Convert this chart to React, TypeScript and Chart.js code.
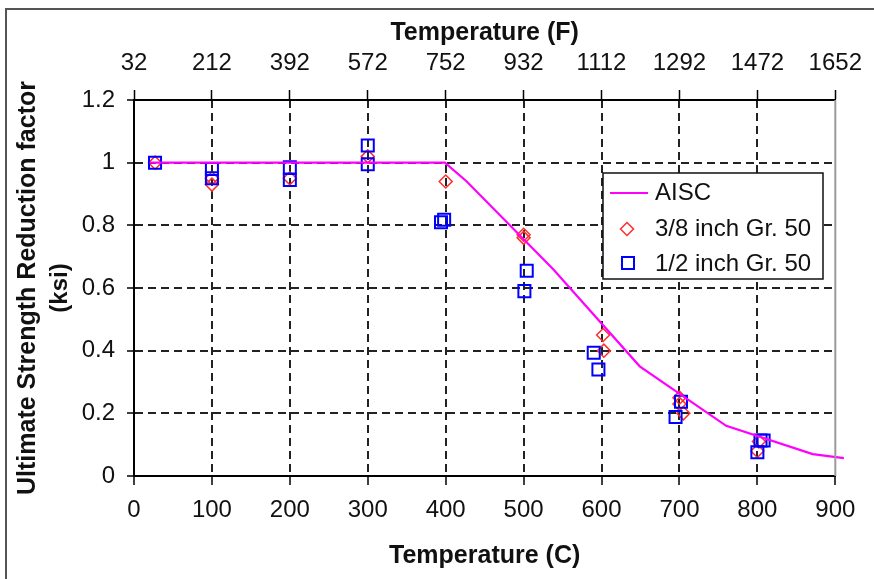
import React, { useEffect, useRef } from 'react';
import { Chart, registerables } from 'chart.js';

Chart.register(...registerables);

// AISC ultimate-strength reduction curve (temperature in C)
const aiscTempC = [20, 93, 204, 316, 399, 427, 538, 649, 760, 871, 911];
const aiscFactor = [1, 1, 1, 1, 1, 0.94, 0.66, 0.35, 0.16, 0.07, 0.057];

// 3/8 inch Gr. 50 (diamonds)
const g38TempC = [27, 100, 100, 200, 300, 400, 500, 500, 602, 603, 700, 700, 705, 802, 800];
const g38Factor = [1.0, 0.93, 0.95, 0.95, 1.02, 0.94, 0.77, 0.76, 0.45, 0.4, 0.25, 0.23, 0.2, 0.11, 0.08];

// 1/2 inch Gr. 50 (squares)
const g12TempC = [27, 100, 100, 200, 200, 300, 300, 394, 398, 504, 501, 590, 596, 702, 695, 800, 804, 808];
const g12Factor = [1.0, 0.98, 0.95, 0.985, 0.945, 1.055, 0.995, 0.81, 0.818, 0.655, 0.59, 0.393, 0.34, 0.237, 0.188, 0.076, 0.113, 0.113];

// Tick labels
const fTickLabels = ['32', '212', '392', '572', '752', '932', '1112', '1292', '1472', '1652'];
const yTickLabels = ['0', '0.2', '0.4', '0.6', '0.8', '1', '1.2'];

const seriesNames = ['AISC', '3/8 inch Gr. 50', '1/2 inch Gr. 50'];

const FONT = '"Liberation Sans", Arial, Helvetica, sans-serif';
const MAGENTA = '#ff00ff';
const RED = 'rgb(255,45,45)';
const BLUE = '#0000ff';
const GRID = '#222';

const toPoints = (xs: number[], ys: number[]) => xs.map((x, i) => ({ x, y: ys[i] }));

const decorPlugin = {
  id: 'decor',
  afterDraw(chart: any) {
    const { ctx, chartArea } = chart;
    const ca = chartArea;
    ctx.save();
    // right plot border (gray)
    ctx.strokeStyle = '#9a9a9a';
    ctx.lineWidth = 2;
    ctx.beginPath();
    ctx.moveTo(ca.right, ca.top);
    ctx.lineTo(ca.right, ca.bottom);
    ctx.stroke();

    // outer frame
    ctx.strokeStyle = '#555';
    ctx.lineWidth = 2;
    ctx.strokeRect(6, 9, 900, 620);

    // titles
    ctx.fillStyle = '#111';
    ctx.font = 'bold 25px ' + FONT;
    ctx.textAlign = 'center';
    ctx.textBaseline = 'alphabetic';
    const cx = (ca.left + ca.right) / 2;
    ctx.fillText('Temperature (F)', cx, 40);
    ctx.fillText('Temperature (C)', cx, 563);
    const cy = (ca.top + ca.bottom) / 2;
    ctx.save();
    ctx.translate(35, cy);
    ctx.rotate(-Math.PI / 2);
    ctx.fillText('Ultimate Strength Reduction factor', 0, 0);
    ctx.restore();
    ctx.save();
    ctx.translate(67, cy);
    ctx.rotate(-Math.PI / 2);
    ctx.font = 'bold 24px ' + FONT;
    ctx.fillText('(ksi)', 0, 0);
    ctx.restore();

    // legend
    const lx = 603, ly = 173, lw = 220, lh = 106;
    ctx.fillStyle = '#fff';
    ctx.fillRect(lx, ly, lw, lh);
    ctx.strokeStyle = '#111';
    ctx.lineWidth = 1.5;
    ctx.strokeRect(lx, ly, lw, lh);

    ctx.strokeStyle = MAGENTA;
    ctx.lineWidth = 2;
    ctx.beginPath();
    ctx.moveTo(610, 193);
    ctx.lineTo(648, 193);
    ctx.stroke();

    ctx.strokeStyle = RED;
    ctx.lineWidth = 1.5;
    ctx.beginPath();
    ctx.moveTo(627, 229 - 6.5);
    ctx.lineTo(627 + 6.5, 229);
    ctx.lineTo(627, 229 + 6.5);
    ctx.lineTo(627 - 6.5, 229);
    ctx.closePath();
    ctx.stroke();

    ctx.strokeStyle = BLUE;
    ctx.lineWidth = 2;
    ctx.strokeRect(628 - 6, 263 - 6, 12, 12);

    ctx.fillStyle = '#111';
    ctx.font = '24px ' + FONT;
    ctx.textAlign = 'left';
    ctx.fillText(seriesNames[0], 655, 200);
    ctx.fillText(seriesNames[1], 655, 236);
    ctx.fillText(seriesNames[2], 655, 271);
    ctx.restore();
  },
};

export default function App() {
  const canvasRef = useRef<HTMLCanvasElement | null>(null);

  useEffect(() => {
    if (!canvasRef.current) return;
    const hideEdgeX = (c: any) =>
      c.tick && (c.tick.value === 0 || c.tick.value === 900) ? 'rgba(0,0,0,0)' : GRID;
    const hideEdgeY = (c: any) =>
      c.tick && (Math.abs(c.tick.value) < 1e-6 || Math.abs(c.tick.value - 1.2) < 1e-6) ? 'rgba(0,0,0,0)' : GRID;

    const chart = new Chart(canvasRef.current, {
      type: 'scatter',
      data: {
        datasets: [
          {
            label: seriesNames[0],
            data: toPoints(aiscTempC, aiscFactor),
            showLine: true,
            borderColor: MAGENTA,
            backgroundColor: MAGENTA,
            borderWidth: 2.2,
            pointRadius: 0,
            tension: 0,
            clip: false as any,
          },
          {
            label: seriesNames[2],
            data: toPoints(g12TempC, g12Factor),
            pointStyle: 'rect',
            pointRadius: 8.5,
            borderColor: BLUE,
            backgroundColor: 'rgba(0,0,0,0)',
            pointBorderWidth: 2,
            borderWidth: 2,
          },
          {
            label: seriesNames[1],
            data: toPoints(g38TempC, g38Factor),
            pointStyle: 'rectRot',
            pointRadius: 6.5,
            borderColor: RED,
            backgroundColor: 'rgba(0,0,0,0)',
            pointBorderWidth: 1.5,
            borderWidth: 1.5,
          },
        ],
      },
      options: {
        animation: false,
        responsive: false,
        maintainAspectRatio: false,
        layout: { padding: { left: 0, right: 31, top: 0, bottom: 0 } },
        plugins: {
          legend: { display: false },
          tooltip: { enabled: false },
          title: { display: false },
        },
        scales: {
          x: {
            type: 'linear',
            position: 'bottom',
            min: 0,
            max: 900,
            afterFit: (s: any) => { s.height = 103; },
            ticks: {
              stepSize: 100,
              autoSkip: false,
              maxRotation: 0,
              padding: 11,
              color: '#111',
              font: { family: FONT, size: 24 },
            },
            grid: {
              color: hideEdgeX,
              lineWidth: 2,
              tickColor: '#000',
              tickLength: 9,
              tickWidth: 1.5,
              tickBorderDash: [],
            },
            border: { display: true, color: '#000', width: 2, dash: [8, 5] },
          },
          x2: {
            type: 'linear',
            axis: 'x',
            position: 'top',
            min: 0,
            max: 900,
            afterFit: (s: any) => { s.height = 100; },
            ticks: {
              stepSize: 100,
              autoSkip: false,
              maxRotation: 0,
              padding: 12,
              color: '#111',
              font: { family: FONT, size: 24 },
              callback: (_v: any, i: number) => fTickLabels[i],
            },
            grid: {
              drawOnChartArea: false,
              tickColor: '#000',
              tickLength: 10,
              tickWidth: 1.5,
            },
            border: { display: true, color: '#000', width: 2 },
          } as any,
          y: {
            type: 'linear',
            min: 0,
            max: 1.2,
            afterFit: (s: any) => { s.width = 134; },
            ticks: {
              stepSize: 0.2,
              padding: 12,
              color: '#111',
              font: { family: FONT, size: 24 },
              callback: (_v: any, i: number) => yTickLabels[i],
            },
            grid: {
              color: hideEdgeY,
              lineWidth: 2,
              tickColor: '#000',
              tickLength: 7,
              tickWidth: 1.5,
              tickBorderDash: [],
            },
            border: { display: true, color: '#000', width: 2, dash: [8, 5] },
          },
        },
      },
      plugins: [decorPlugin],
    });
    return () => chart.destroy();
  }, []);

  return (
    <div style={{ position: 'absolute', left: 0, top: 0, width: 874, height: 579, background: '#fff' }}>
      <canvas ref={canvasRef} width={874} height={579} style={{ display: 'block' }} />
    </div>
  );
}
